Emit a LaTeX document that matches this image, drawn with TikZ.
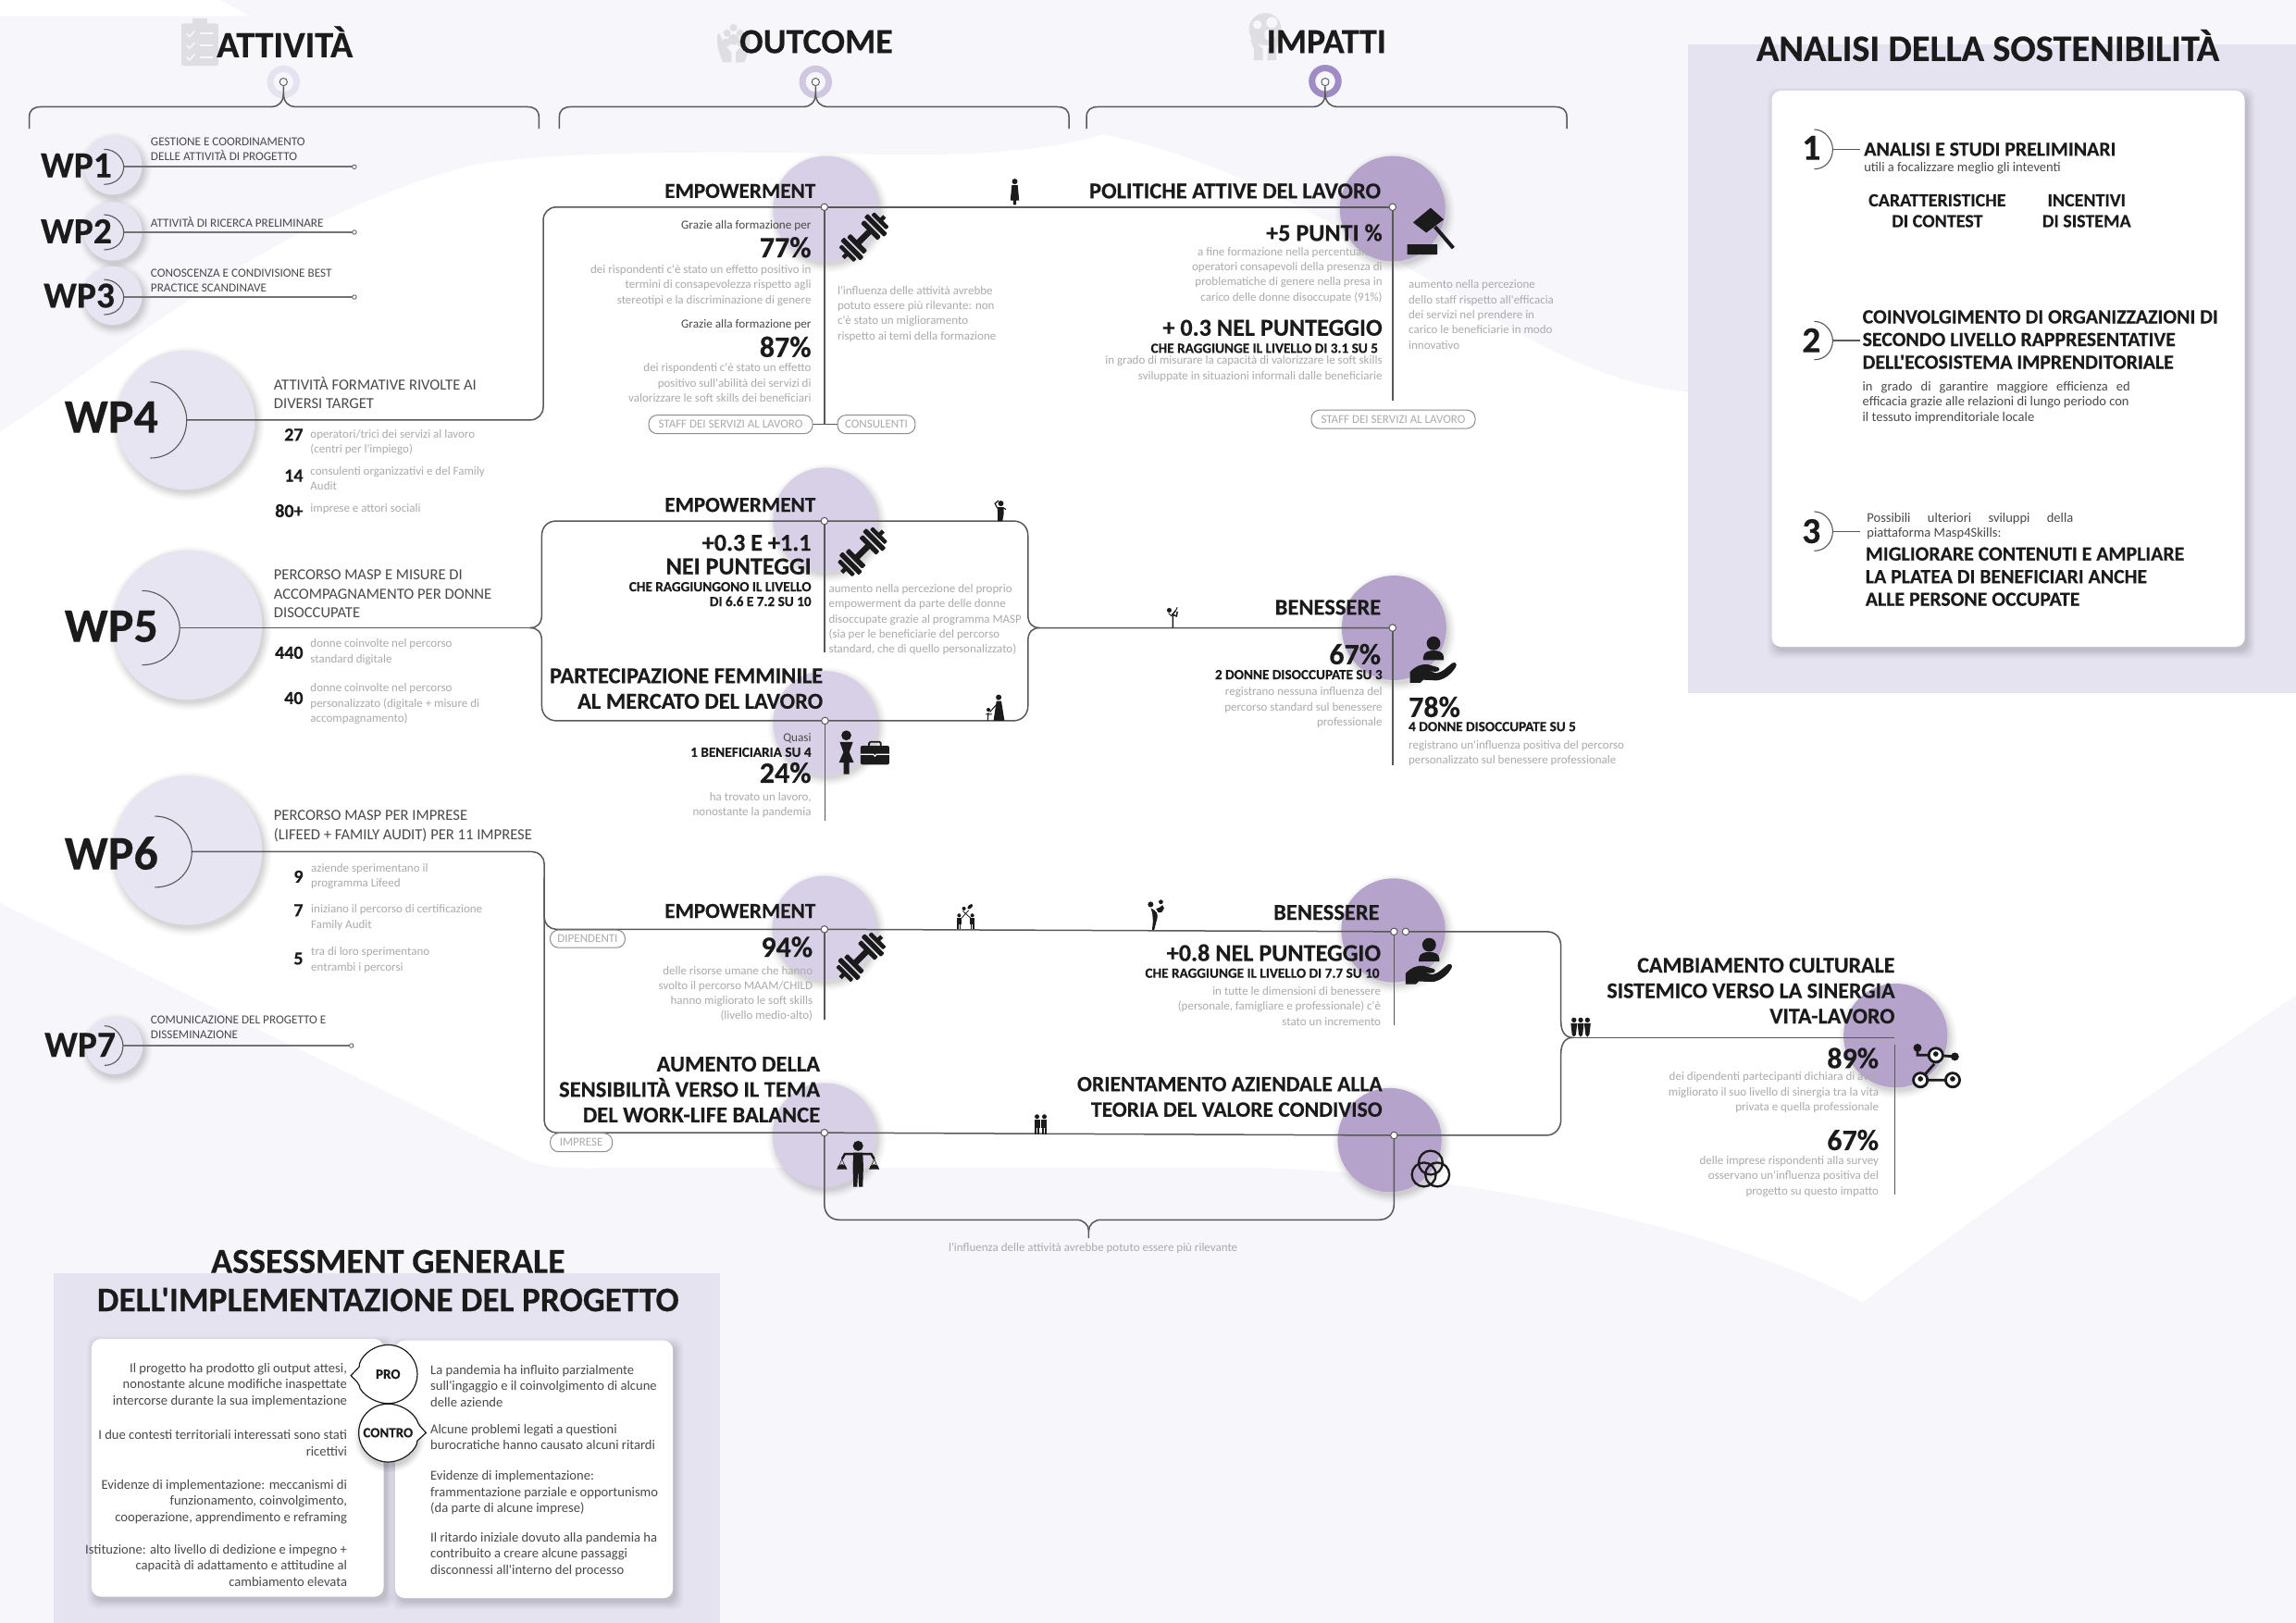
\documentclass[tikz,border=0pt]{standalone}
\usepackage{fontspec}
\setmainfont{Carlito}[Ligatures=TeXOff,BoldFeatures={FakeBold=0.35}]
\usetikzlibrary{calc}
\definecolor{bgl}{HTML}{F6F6FB}
\definecolor{panel}{HTML}{E6E3F1}
\definecolor{wpc}{HTML}{E8E5F2}
\definecolor{lp}{HTML}{D8D0E6}
\definecolor{dp}{HTML}{B5A3CB}
\definecolor{rng}{HTML}{A08CC4}
\definecolor{rnm}{HTML}{D0C8E2}
\definecolor{ink}{HTML}{1B1B1B}
\definecolor{lin}{HTML}{585858}
\definecolor{gtx}{HTML}{ABABAB}
\definecolor{dtx}{HTML}{4A4A4A}
\definecolor{hic}{HTML}{DEDEE3}
\newcommand\softdisc[4]{%
  \foreach \d/\o in {5/.02,4/.02,3/.025,2/.03,1/.03,0/.04}{\fill[black,opacity=\o] (#1+1.5,#2+2.5) circle[radius=#3+\d];}
  \fill[#4] (#1,#2) circle[radius=#3];}
\newcommand\softcard[4]{%
  \foreach \d/\o in {5/.02,4/.02,3/.025,2/.03,1/.03,0/.04}{\fill[black,opacity=\o,rounded corners=10pt] (#1+2-\d,#2+3-\d) rectangle (#3+2+\d,#4+3+\d);}
  \fill[white,rounded corners=10pt] (#1,#2) rectangle (#3,#4);}
\newcommand\wparc[4]{\draw[arcl] (#1,#2) .. controls (#1+0.6*#3-0.6*#1,#2) and (#3,#4-0.45*#4+0.45*#2) .. (#3,#4) .. controls (#3,#4+0.55*#4-0.55*#2) and (#1+0.6*#3-0.6*#1,2*#4-#2) .. (#1,2*#4-#2);}
\newcommand\topbracket[3]{%
  \draw[conn] (#1,88) -- (#1,80) .. controls (#1,75) and (#1+3,73) .. (#1+8,73) -- (#2-8,73) .. controls (#2-4,73) and (#2,70) .. (#2,64) -- (#2,59);
  \draw[conn] (#3,88) -- (#3,80) .. controls (#3,75) and (#3-3,73) .. (#3-8,73) -- (#2+8,73) .. controls (#2+4,73) and (#2,70) .. (#2,64);
  \draw[lin,line width=.9pt,fill=bgl] (#2,56) circle[radius=2.6];}
\tikzset{
 conn/.style={draw=lin,line width=1.5pt},
 arcl/.style={draw=lin,line width=1.1pt},
 wpl/.style={draw=black!55,line width=1.7pt},
 dotn/.style={circle,draw=lin,fill=white,line width=1pt,minimum size=7.5pt,inner sep=0},
 endn/.style={circle,draw=lin,fill=white,line width=.8pt,minimum size=4.5pt,inner sep=0},
 pill/.style={draw=black!45,fill=white,line width=1pt,rounded corners=9pt,inner sep=0,font=\fontsize{13}{14}\selectfont,text=gtx},
 rt/.style={anchor=east,align=right,inner sep=0,outer sep=0},
 lt/.style={anchor=west,align=left,inner sep=0,outer sep=0},
 ct/.style={anchor=center,align=center,inner sep=0,outer sep=0},
 title/.style={font=\bfseries\fontsize{38}{41}\selectfont,text=ink},
 wp/.style={font=\bfseries\fontsize{39.5}{44}\selectfont,text=ink},
 wpb/.style={font=\bfseries\fontsize{52}{56}\selectfont,text=ink},
 hd/.style={font=\bfseries\fontsize{24.5}{27.5}\selectfont,text=ink},
 emp/.style={font=\bfseries\fontsize{23.2}{27.5}\selectfont,text=ink},
 pct/.style={font=\bfseries\fontsize{32}{34}\selectfont,text=ink},
 big/.style={font=\bfseries\fontsize{26.2}{25.6}\selectfont,text=ink},
 sb/.style={font=\bfseries\fontsize{15.2}{16}\selectfont,text=ink},
 gr/.style={font=\fontsize{13}{16.3}\selectfont,text=gtx},
 sm/.style={font=\fontsize{13.2}{16}\selectfont,text=dtx},
 md/.style={font=\fontsize{16.6}{20.5}\selectfont,text=dtx},
 num/.style={font=\bfseries\fontsize{20}{22}\selectfont,text=ink},
 as/.style={font=\fontsize{14.6}{17.5}\selectfont,text=dtx},
 an/.style={font=\bfseries\fontsize{21.8}{24.5}\selectfont,text=ink},
 ans/.style={font=\fontsize{14.5}{16.5}\selectfont,text=dtx},
 dumbbell/.pic={\begin{scope}[rotate=45]
   \fill[ink,rounded corners=.6pt] (-8,-2.2) rectangle (8,2.2);
   \foreach \s in {-1,1}{
    \fill[ink,rounded corners=1pt] ({\s*7-1.8},-8.5) rectangle ({\s*7+1.8},8.5);
    \fill[ink,rounded corners=1pt] ({\s*12-1.8},-10) rectangle ({\s*12+1.8},10);
    \fill[ink,rounded corners=1pt] ({\s*16.5-1.5},-7.5) rectangle ({\s*16.5+1.5},7.5);
    \fill[ink] ({\s*17},-1.5) rectangle ({\s*21},1.5);}
   \end{scope}},
 gavel/.pic={\fill[ink] (-12,-7) -- (0,-17) -- (9,-9) -- (-3,0) -- cycle;
   \draw[ink,line width=4pt] (3,-4) -- (15.5,10.5);
   \fill[ink,rounded corners=.5pt] (-16,8) rectangle (4.6,15);},
 carehand/.pic={\fill[ink] (0,-11.4) circle[radius=4.7];
   \fill[ink] (-7,0) -- (-7,-2) .. controls (-7,-5.5) and (-3,-6.5) .. (0,-6.5) .. controls (3,-6.5) and (7,-5.5) .. (7,-2) -- (7,0) -- cycle;
   \fill[ink] (-16,15.5) -- (-16,8) .. controls (-12,4) and (-8,2.5) .. (-4,3) -- (3,5) .. controls (5,6) and (4,8) .. (1,8) -- (-3,7.5) -- (2,9) .. controls (6,8.5) and (10,4) .. (13,2) .. controls (15,1) and (16.5,3) .. (15,5) .. controls (12,10) and (7,13.5) .. (2,14) -- (-7,13.5) -- (-9,15.5) -- cycle;},
 woman/.pic={\fill[ink] (0,-11.5) circle[radius=3.4];
   \fill[ink] (-4.5,-7) -- (4.5,-7) -- (2,0) -- (5,7) -- (1.9,7) -- (1.9,15) -- (-1.9,15) -- (-1.9,7) -- (-5,7) -- (-2,0) -- cycle;},
 briefcase/.pic={\fill[ink,rounded corners=2pt] (-9.8,-5) rectangle (9.8,8);
   \draw[ink,line width=1.8pt,rounded corners=1.5pt] (-4,-5) -- (-4,-7.6) -- (4,-7.6) -- (4,-5);
   \draw[white,line width=1.2pt] (-9.8,1) -- (-1,1) -- (0,2.2) -- (1,1) -- (9.8,1);},
 balance/.pic={\fill[ink] (0,-12) circle[radius=3.5];
   \fill[ink] (-3.2,-7.5) -- (3.2,-7.5) -- (3.6,2) -- (3.2,16) -- (.6,16) -- (0,4) -- (-.6,16) -- (-3.2,16) -- (-3.6,2) -- cycle;
   \draw[ink,line width=2.4pt] (-11,-3) -- (-9,-6.5) -- (9,-6.5) -- (11,-3);
   \draw[ink,line width=.6pt] (-11,-3) -- (-14,4) (-11,-3) -- (-8,4) (11,-3) -- (14,4) (11,-3) -- (8,4);
   \fill[ink] (-14.5,4) arc[start angle=180,end angle=360,radius=3.5] -- cycle;
   \fill[ink] (7.5,4) arc[start angle=180,end angle=360,radius=3.5] -- cycle;},
 venn/.pic={\draw[ink,line width=2.3pt] (0,-4.5) circle[radius=8.2] (-4.6,3.6) circle[radius=8.2] (4.6,3.6) circle[radius=8.2];},
 netw/.pic={\draw[ink,line width=2.8pt] (-12.5,-11) |- (0,-7) (0,-7) -- (13,-6) (-10.5,10) -- (11.5,10) (-1,-1) -- (-9,8);
   \fill[ink] (-12.5,-12) circle[radius=2.8] (13,-6) circle[radius=2.8];
   \foreach \p in {(0,-7),(-10.5,10),(11.5,10)}{\fill[white] \p circle[radius=4.8]; \draw[ink,line width=2.8pt] \p circle[radius=4.8]; \fill[ink] \p ++(0,-.8) circle[radius=1.8];}},
 figa/.pic={\fill[ink] (0,-16) circle[radius=1.9];
   \fill[ink] (-2,-13.5) -- (2,-13.5) -- (3,-3) -- (1,-3) -- (1,0) -- (-1,0) -- (-1,-3) -- (-3,-3) -- cycle;},
 figb/.pic={\fill[ink] (.5,-12) circle[radius=1.9];
   \fill[ink] (-2,-9.5) -- (2.5,-9.5) -- (2.5,-5) -- (1.6,0) -- (-1.6,0) -- (-1.6,-5) -- cycle;
   \draw[ink,line width=1.2pt] (2,-9) -- (4,-8) (-2,-9) -- (-3.5,-12) -- (-1,-14);},
 figc/.pic={\fill[ink] (1,-16) circle[radius=1.9];
   \fill[ink] (-.5,-13.5) -- (2.8,-13.5) -- (5,0) -- (-2.5,0) -- cycle;
   \fill[ink] (-6,-7.5) circle[radius=1.3];
   \draw[ink,line width=1.1pt] (-.5,-11) -- (-5,-6) (-3.6,-4.5) -- (-7.8,-4.5) (-6,-5.5) -- (-6.5,0);},
 figd/.pic={\draw[ink,line width=1.5pt] (0,0) -- (0,-7) -- (-.3,-9) -- (2,-12);
   \draw[ink,line width=1.5pt] (-1,-9.2) -- (2.5,-8) -- (3,-11);
   \fill[ink] (-2.5,-12) circle[radius=1.6];
   \draw[ink,line width=1pt] (-3,-10) -- (-1,-8) (2,-12) -- (3,-14);},
 fige/.pic={\foreach \x in {-5.5,3.5}{\fill[ink] (\x,-9.5) circle[radius=1.3]; \fill[ink] (\x-1.4,-8) rectangle (\x+1.4,-3.5); \fill[ink] (\x-1.3,-3.5) rectangle (\x-.2,0); \fill[ink] (\x+.2,-3.5) rectangle (\x+1.3,0);}
   \draw[ink,line width=.8pt] (-4,-7.5) -- (1,-13) (2.5,-7.5) -- (-3,-12.5);
   \fill[ink,rotate around={40:(2,-15.5)}] (2,-15.5) ellipse[x radius=2.2,y radius=1.2];
   \fill[ink] (-2.2,-14.2) circle[radius=1.3];},
 figf/.pic={\fill[ink] (-3.2,-17.5) circle[radius=1.9];
   \fill[ink] (-3,-15) .. controls (1,-13) and (2,-11) .. (1.3,-8) -- (-.8,0) -- (-2.2,0) -- (-1.6,-6) -- (-2,-11) -- cycle;
   \fill[ink] (.5,-14.5) -- (3,-15.5) -- (5,-17) -- (6,-15) -- (5,-13) -- (4,-12) -- (2,-12) -- cycle;
   \fill[ink] (3.8,-19.2) circle[radius=1.5];},
 figg/.pic={\foreach \x in {-3.8,1.2}{\fill[ink] (\x,-12) circle[radius=1.6]; \fill[ink] (\x-1.9,-10) rectangle (\x+1.9,-4); \fill[ink] (\x-1.6,-4) rectangle (\x-.2,0); \fill[ink] (\x+.2,-4) rectangle (\x+1.6,0);}},
 figh/.pic={\foreach \x in {-4.6,0,4.6}{\fill[ink] (\x,-12) circle[radius=1.7]; \fill[ink] (\x-2.2,-9.8) -- (\x+2.2,-9.8) -- (\x+1.3,-2) -- (\x,-.5) -- (\x-1.3,-2) -- cycle;}},
 clipb/.pic={\fill[hic,rounded corners=1.5pt] (-12.5,-13) rectangle (12.5,16);
   \fill[hic,rounded corners=1pt] (-5,-16.5) rectangle (5,-10);
   \foreach \y in {-6,2,10}{\draw[bgl,line width=1.6pt] (-9,\y) -- (-7,\y+2) -- (-3.5,\y-2); \draw[bgl,line width=1.8pt] (0,\y) -- (9,\y);}},
 handsp/.pic={\fill[hic] (-14,8) .. controls (-16,-2) and (-15,-8) .. (-13.5,-8) .. controls (-12,-6) and (-11,-1) .. (-8,3) -- (-2,10) -- (-2,19) -- (-10,19) -- cycle;
   \fill[hic] (14,8) .. controls (16,-2) and (15,-8) .. (13.5,-8) .. controls (12,-6) and (11,-1) .. (8,3) -- (2,10) -- (2,19) -- (10,19) -- cycle;
   \fill[hic] (0,-13) circle[radius=3.4] (-6,-8) circle[radius=3.4] (6,-8) circle[radius=3.4] (0,-2) circle[radius=5] (-7,1) circle[radius=4] (7,1) circle[radius=4];},
 globeh/.pic={\fill[hic] (0,-8) circle[radius=14.5];
   \fill[bgl] (-7,-12) circle[radius=4] (6,-14) circle[radius=5] (4,-3) circle[radius=5];
   \fill[hic] (-10,20) -- (-10,10) -- (-13,2) -- (-12,-2) -- (-8,4) -- (-2,10) -- (-2,20) -- cycle;
   \fill[hic] (10,20) -- (10,10) -- (13,2) -- (12,-2) -- (8,4) -- (2,10) -- (2,20) -- cycle;
   \fill[hic] (-3,-2) circle[radius=3] (-3,3) circle[radius=3.2];},
}
\begin{document}
\begin{tikzpicture}[x=1.5823pt,y=-1.5816pt,line cap=butt]
\useasboundingbox (0,0) rectangle (1568,1109);
% background
\fill[bgl] (0,0) rectangle (1568,1109);
\fill[white] (0,0) -- (150,0) -- (171,11) -- (0,11) -- cycle;
\fill[white] (0,295) .. controls (80,245) and (180,150) .. (322,113)
  .. controls (370,104) and (470,103) .. (576,105)
  .. controls (650,107) and (710,105) .. (753,92)
  .. controls (860,112) and (960,185) .. (1049,234)
  .. controls (1090,255) and (1120,265) .. (1153,268) -- (1568,180)
  -- (1568,680) .. controls (1450,760) and (1350,830) .. (1272,890)
  .. controls (1180,840) and (1000,800) .. (853,798) -- (441,798)
  .. controls (400,798) and (380,800) .. (360,793) -- (0,617) -- cycle;
% panels
\fill[panel] (1153,30.5) rectangle (1568,473.5);
\fill[panel] (36.7,870) rectangle (492,1109);
\softcard{1210}{62}{1533}{442}
\softcard{62.5}{915}{262}{1091}
\softcard{270}{916}{459.5}{1092}
% header icons
\pic at (136.5,29) {clipb};
\pic[scale=.74] at (501,28.5) {handsp};
\pic[scale=.76] at (864,26) {globeh};
% halos + brackets
\draw[panel,line width=7pt] (193.6,56) circle[radius=9];
\draw[rnm,line width=7pt] (557,56) circle[radius=9];
\draw[rng,line width=7pt] (905,55.5) circle[radius=9];
\topbracket{20}{193.6}{368}
\topbracket{382}{557}{730}
\topbracket{742}{905}{1070}
% WP discs
\softdisc{77}{113}{20}{wpc}
\softdisc{77}{158}{20}{wpc}
\softdisc{77}{202}{20}{wpc}
\softdisc{126.5}{287}{47.5}{wpc}
\softdisc{128}{427}{51}{wpc}
\softdisc{128}{581}{51}{wpc}
\softdisc{78}{714.5}{19.5}{wpc}
% outcome discs
\softdisc{564}{142.6}{36}{lp}
\softdisc{951}{142.6}{36}{dp}
\softdisc{563.5}{355}{35.5}{lp}
\softdisc{563.5}{494}{35.5}{lp}
\softdisc{952}{429}{35.7}{dp}
\softdisc{563}{634}{35.5}{lp}
\softdisc{563}{775.5}{35.5}{lp}
\softdisc{951.5}{635.7}{35.5}{dp}
\softdisc{949}{779}{35.5}{dp}
\softdisc{1294.5}{707.6}{35.5}{dp}
% coordinates
\coordinate (c1) at (563,141.5); \coordinate (c2) at (951,141.5);
\coordinate (c3) at (563,356); \coordinate (c4) at (563.4,492.5);
\coordinate (c5) at (951,429);
\coordinate (c6) at (563,635); \coordinate (c7) at (952,636.6); \coordinate (c8) at (960,636.6);
\coordinate (c9) at (563,774); \coordinate (c10) at (952,775.8);
\coordinate (e1) at (242,114); \coordinate (e2) at (242,158.7); \coordinate (e3) at (242,203); \coordinate (e7) at (240,714.5);
% WP connectors
\wparc{71}{102}{84.5}{114}
\wparc{71}{146.7}{84.5}{158.7}
\wparc{71}{191}{84.5}{203}
\wparc{102.6}{261}{127.5}{287}
\wparc{97}{403.6}{122.7}{429}
\wparc{105.7}{557.7}{131}{582}
\wparc{71.4}{701}{84}{714.5}
\draw[wpl] (84.5,114) -- (e1);
\draw[wpl] (84.5,158.7) -- (e2);
\draw[wpl] (84.5,203) -- (e3);
\draw[wpl] (84,714.5) -- (e7);
\draw[conn,rounded corners=14pt] (127.5,287) -- (371,287) -- (371,141.5) -- (c1);
\draw[conn] (c1) -- (c2);
\draw[conn] (c1) -- (563,290);
\draw[conn] (c2) -- (951,273.7);
\draw[conn] (555,290) -- (572,290);
% WP5 connector
\draw[conn] (122.7,429) -- (362,429);
\draw[conn] (362,429) .. controls (367,429) and (370,426) .. (370,420) -- (370,366) .. controls (370,360) and (374,356) .. (380,356) -- (c3) -- (692,356) .. controls (698,356) and (702,360) .. (702,366) -- (702,420) .. controls (702,426) and (705,429) .. (710,429) -- (c5);
\draw[conn] (362,429) .. controls (367,429) and (370,432) .. (370,438) -- (370,482.5) .. controls (370,488) and (374,492.5) .. (380,492.5) -- (c4) -- (692,492.5) .. controls (698,492.5) and (702,488) .. (702,482.5) -- (702,438) .. controls (702,432) and (705,429) .. (710,429);
\draw[conn] (c3) -- (563,445.7);
\draw[conn] (c4) -- (563.4,561);
\draw[conn] (c5) -- (951,523);
% WP6 connector
\draw[conn,rounded corners=13pt] (131,582) -- (371.7,582) -- (371.7,635) -- (c6);
\draw[conn,rounded corners=13pt] (371.7,600) -- (371.7,774) -- (c9);
\draw[conn] (c6) -- (c7);
\draw[conn] (c8) -- (1056,636.6) .. controls (1062,636.6) and (1066,640) .. (1066,647) -- (1066,698) .. controls (1066,705) and (1069,709) .. (1074,709);
\draw[conn] (c9) -- (c10);
\draw[conn] (c10) -- (1056,775.8) .. controls (1062,775.8) and (1066,771) .. (1066,765) -- (1066,720) .. controls (1066,713) and (1069,709) .. (1074,709);
\coordinate (c11) at (1294,709);
\draw[conn] (1074,709) -- (c11);
\draw[conn] (1294,714) -- (1294,816);
\draw[conn] (c6) -- (563,697);
\draw[conn] (c7) -- (952,700.7);
\draw[conn] (c9) -- (563,823) .. controls (563,829) and (567,833.5) .. (573,833.5) -- (735,833.5) .. controls (740,833.5) and (743.5,837) .. (743.5,841) -- (743.5,846);
\draw[conn] (c10) -- (952,823) .. controls (952,829) and (948,833.5) .. (942,833.5) -- (752,833.5) .. controls (747,833.5) and (743.5,837) .. (743.5,841);
% dots
\node[dotn] (d1) at (c1) {}; \node[dotn] (d2) at (c2) {}; \node[dotn] (d3) at (c3) {}; \node[dotn] (d4) at (c4) {};
\node[dotn] (d5) at (c5) {}; \node[dotn] (d6) at (c6) {}; \node[dotn] (d7) at (c7) {}; \node[dotn] (d8) at (c8) {};
\node[dotn] (d9) at (c9) {}; \node[dotn] (d10) at (c10) {};
\node[endn] (f1) at (e1) {}; \node[endn] (f2) at (e2) {}; \node[endn] (f3) at (e3) {}; \node[endn] (f7) at (e7) {};
% pills
\node[pill,minimum width=177pt,minimum height=20pt] (p1) at (499,290) {STAFF DEI SERVIZI AL LAVORO};
\node[pill,minimum width=84pt,minimum height=20pt] (p2) at (598.5,290) {CONSULENTI};
\node[pill,minimum width=177pt,minimum height=20pt] (p3) at (951.5,286.5) {STAFF DEI SERVIZI AL LAVORO};
\node[pill,minimum width=81pt,minimum height=19pt] (p4) at (401.3,641.5) {DIPENDENTI};
\node[pill,minimum width=67pt,minimum height=20pt] (p5) at (397,780.7) {IMPRESE};
% icons
\pic[scale=.95] at (590,162) {dumbbell};
\pic[scale=.95] at (589,377) {dumbbell};
\pic[scale=.95] at (588,654) {dumbbell};
\pic at (977,159) {gavel};
\pic at (979,451) {carehand};
\pic at (976,657) {carehand};
\pic at (578,514) {woman};
\pic at (597.5,514.5) {briefcase};
\pic at (586,795) {balance};
\pic at (977,799) {venn};
\pic at (1322,728) {netw};
\pic at (693,140) {figa};
\pic at (683,356) {figb};
\pic at (681,492.5) {figc};
\pic at (801,429) {figd};
\pic at (660.5,635) {fige};
\pic at (789,635.5) {figf};
\pic at (712,775) {figg};
\pic at (1079.5,709) {figh};
% titles
\node[lt,title,font=\bfseries\fontsize{40}{41}\selectfont] (t1) at (148,28.5) {ATTIVITÀ};
\node[lt,title] (t2) at (505,28.5) {OUTCOME};
\node[lt,title] (t3) at (865,28.5) {IMPATTI};
\node[ct,title,font=\bfseries\fontsize{40.4}{41}\selectfont] (t4) at (1357.5,31) {ANALISI DELLA SOSTENIBILITÀ};
\node[ct,title] (t5) at (265,862) {ASSESSMENT GENERALE};
\node[ct,title,font=\bfseries\fontsize{37.4}{41}\selectfont] (t6) at (265,888) {DELL'IMPLEMENTAZIONE DEL PROGETTO};
% WP labels
\node[rt,wp] (w1) at (76.4,113) {WP1};
\node[rt,wp] (w2) at (76.4,158) {WP2};
\node[rt,wp] (w3) at (78.4,202) {WP3};
\node[rt,wpb] (w4) at (108,285) {WP4};
\node[rt,wpb] (w5) at (108,428) {WP5};
\node[rt,wpb] (w6) at (108,583) {WP6};
\node[rt,wp] (w7) at (79,714) {WP7};
% WP texts
\node[lt,sm] (a1) at (103,102) {GESTIONE E COORDINAMENTO\\DELLE ATTIVITÀ DI PROGETTO};
\node[lt,sm] (a2) at (103,152) {ATTIVITÀ DI RICERCA PRELIMINARE};
\node[lt,sm] (a3) at (103,191.5) {CONOSCENZA E CONDIVISIONE BEST\\PRACTICE SCANDINAVE};
\node[lt,md] (a4) at (187,268.5) {ATTIVITÀ FORMATIVE RIVOLTE AI\\DIVERSI TARGET};
\node[rt,num] (a5) at (207,297) {27};
\node[lt,gr] (a6) at (212,302.5) {operatori/trici dei servizi al lavoro\\(centri per l'impiego)};
\node[rt,num] (a7) at (207,325) {14};
\node[lt,gr] (a8) at (212,327) {consulenti organizzativi e del Family\\Audit};
\node[rt,num] (a9) at (207,349) {80+};
\node[lt,gr] (a10) at (212,348) {imprese e attori sociali};
\node[lt,md] (a11) at (187,406) {PERCORSO MASP E MISURE DI\\ACCOMPAGNAMENTO PER DONNE\\DISOCCUPATE};
\node[rt,num] (a12) at (207,446) {440};
\node[lt,gr] (a13) at (212,445.5) {donne coinvolte nel percorso\\standard digitale};
\node[rt,num] (a14) at (207,477) {40};
\node[lt,gr] (a15) at (212,481) {donne coinvolte nel percorso\\personalizzato (digitale + misure di\\accompagnamento)};
\node[lt,md] (a16) at (187,564.5) {PERCORSO MASP PER IMPRESE\\(LIFEED + FAMILY AUDIT) PER 11 IMPRESE};
\node[rt,num] (a17) at (207,599) {9};
\node[lt,gr] (a18) at (212.5,599) {aziende sperimentano il\\programma Lifeed};
\node[rt,num] (a19) at (207,622) {7};
\node[lt,gr] (a20) at (212.5,627) {iniziano il percorso di certificazione\\Family Audit};
\node[rt,num] (a21) at (207,655) {5};
\node[lt,gr] (a22) at (212.5,656) {tra di loro sperimentano\\entrambi i percorsi};
\node[lt,sm] (a23) at (103,702) {COMUNICAZIONE DEL PROGETTO E\\DISSEMINAZIONE};
% block 1
\node[rt,emp] (b1) at (557,130.5) {EMPOWERMENT};
\node[rt,sm] (b2) at (554,154.5) {Grazie alla formazione per};
\node[rt,pct] (b3) at (554,169) {77\%};
\node[rt,gr] (b4) at (554,195) {dei rispondenti c'è stato un effetto positivo in\\termini di consapevolezza rispetto agli\\stereotipi e la discriminazione di genere};
\node[rt,sm] (b5) at (554,222) {Grazie alla formazione per};
\node[rt,pct] (b6) at (554,237) {87\%};
\node[rt,gr] (b7) at (554,261.5) {dei rispondenti c'è stato un effetto\\positivo sull'abilità dei servizi di\\valorizzare le soft skills dei beneficiari};
\node[lt,gr] (b8) at (572,214.5) {l'influenza delle attività avrebbe\\potuto essere più rilevante: non\\c'è stato un miglioramento\\rispetto ai temi della formazione};
\node[rt,hd] (b9) at (943,130.5) {POLITICHE ATTIVE DEL LAVORO};
\node[rt,big] (b10) at (944,159) {+5 PUNTI \%};
\node[rt,gr] (b11) at (944,188) {a fine formazione nella percentuale di\\operatori consapevoli della presenza di\\problematiche di genere nella presa in\\carico delle donne disoccupate (91\%)};
\node[rt,big] (b12) at (944,224) {+ 0.3 NEL PUNTEGGIO};
\node[rt,sb] (b13) at (941,238) {CHE RAGGIUNGE IL LIVELLO DI 3.1 SU 5};
\node[rt,gr] (b14) at (944,252) {in grado di misurare la capacità di valorizzare le soft skills\\sviluppate in situazioni informali dalle beneficiarie};
\node[lt,gr] (b15) at (962,215) {aumento nella percezione\\dello staff rispetto all'efficacia\\dei servizi nel prendere in\\carico le beneficiarie in modo\\innovativo};
% block 2
\node[rt,emp] (c21) at (557,345) {EMPOWERMENT};
\node[rt,big] (c22) at (554,379) {+0.3 E +1.1\\NEI PUNTEGGI};
\node[rt,sb] (c23) at (554,406) {CHE RAGGIUNGONO IL LIVELLO\\DI 6.6 E 7.2 SU 10};
\node[lt,gr] (c24) at (566,423.5) {aumento nella percezione del proprio\\empowerment da parte delle donne\\disoccupate grazie al programma MASP\\(sia per le beneficiarie del percorso\\standard, che di quello personalizzato)};
\node[rt,hd] (c25) at (562,470.5) {PARTECIPAZIONE FEMMINILE\\AL MERCATO DEL LAVORO};
\node[rt,sm] (c26) at (554,504.5) {Quasi};
\node[rt,sb] (c27) at (554,514) {1 BENEFICIARIA SU 4};
\node[rt,pct] (c28) at (554,528) {24\%};
\node[rt,gr] (c29) at (554,550) {ha trovato un lavoro,\\nonostante la pandemia};
\node[rt,hd] (c30) at (943,415) {BENESSERE};
\node[rt,pct] (c31) at (943,447) {67\%};
\node[rt,sb] (c32) at (944,461) {2 DONNE DISOCCUPATE SU 3};
\node[rt,gr] (c33) at (944,483.5) {registrano nessuna influenza del\\percorso standard sul benessere\\professionale};
\node[lt,pct] (c34) at (962,483) {78\%};
\node[lt,sb] (c35) at (962,496.5) {4 DONNE DISOCCUPATE SU 5};
\node[lt,gr] (c36) at (962,514.5) {registrano un'influenza positiva del percorso\\personalizzato sul benessere professionale};
% block 3
\node[rt,emp] (g1) at (557,622.5) {EMPOWERMENT};
\node[rt,pct] (g2) at (555,647) {94\%};
\node[rt,gr] (g3) at (555,679) {delle risorse umane che hanno\\svolto il percorso MAAM/CHILD\\hanno migliorato le soft skills\\(livello medio-alto)};
\node[rt,hd] (g4) at (942,623.5) {BENESSERE};
\node[rt,big] (g5) at (943,651) {+0.8 NEL PUNTEGGIO};
\node[rt,sb] (g6) at (942,665) {CHE RAGGIUNGE IL LIVELLO DI 7.7 SU 10};
\node[rt,gr] (g7) at (943,687.5) {in tutte le dimensioni di benessere\\(personale, famigliare e professionale) c'è\\stato un incremento};
\node[rt,hd] (g8) at (560,744.5) {AUMENTO DELLA\\SENSIBILITÀ VERSO IL TEMA\\DEL WORK-LIFE BALANCE};
\node[rt,hd,font=\bfseries\fontsize{23.6}{27.5}\selectfont] (g9) at (944,749.5) {ORIENTAMENTO AZIENDALE ALLA\\TEORIA DEL VALORE CONDIVISO};
\node[rt,hd,font=\bfseries\fontsize{24}{27.5}\selectfont] (g10) at (1294,677) {CAMBIAMENTO CULTURALE\\SISTEMICO VERSO LA SINERGIA\\VITA-LAVORO};
\node[rt,pct] (g11) at (1283,723) {89\%};
\node[rt,gr] (g12) at (1283,746.5) {dei dipendenti partecipanti dichiara di aver\\migliorato il suo livello di sinergia tra la vita\\privata e quella professionale};
\node[rt,pct] (g13) at (1283,779) {67\%};
\node[rt,gr] (g14) at (1283,804) {delle imprese rispondenti alla survey\\osservano un'influenza positiva del\\progetto su questo impatto};
\node[ct,gr] (g15) at (746.5,853) {l'influenza delle attività avrebbe potuto essere più rilevante};
% analysis
\wparc{1239}{88.5}{1251.6}{102}
\wparc{1239}{219.6}{1251.6}{232.7}
\wparc{1239}{349.6}{1251.6}{363}
\coordinate (h1) at (1270,102); \coordinate (h2) at (1270,232.7); \coordinate (h3) at (1270,363);
\draw[arcl] (1251.6,102) -- (h1);
\draw[arcl] (1251.6,232.7) -- (h2);
\draw[arcl] (1251.6,363) -- (h3);
\node[ct,wp] (k1) at (1237,101) {1};
\node[ct,wp] (k2) at (1237,232.5) {2};
\node[ct,wp] (k3) at (1237,363) {3};
\node[lt,an] (k4) at (1273,102) {ANALISI E STUDI PRELIMINARI};
\node[lt,ans] (k5) at (1273,115) {utili a focalizzare meglio gli inteventi};
\node[ct,an,font=\bfseries\fontsize{20}{22.5}\selectfont] (k6) at (1323,144) {CARATTERISTICHE\\DI CONTEST};
\node[ct,an,font=\bfseries\fontsize{20}{22.5}\selectfont] (k7) at (1425,144) {INCENTIVI\\DI SISTEMA};
\node[lt,an] (k8) at (1272,232) {COINVOLGIMENTO DI ORGANIZZAZIONI DI\\SECONDO LIVELLO RAPPRESENTATIVE\\DELL'ECOSISTEMA IMPRENDITORIALE};
\node[lt,ans] (k9) at (1272,275) {\makebox[289pt][s]{in grado di garantire maggiore efficienza ed}\\efficacia grazie alle relazioni di lungo periodo con\\il tessuto imprenditoriale locale};
\node[lt,ans] (k10) at (1275,359.5) {\makebox[223pt][s]{Possibili ulteriori sviluppi della}\\piattaforma Masp4Skills:};
\node[lt,an] (k11) at (1274,394) {MIGLIORARE CONTENUTI E AMPLIARE\\LA PLATEA DI BENEFICIARI ANCHE\\ALLE PERSONE OCCUPATE};
% assessment
\node[rt,as] (s1) at (237,946.5) {Il progetto ha prodotto gli output attesi,\\nonostante alcune modifiche inaspettate\\intercorse durante la sua implementazione};
\node[rt,as] (s2) at (237,986) {I due contesti territoriali interessati sono stati\\ricettivi};
\node[rt,as] (s3) at (237,1026) {Evidenze di implementazione: meccanismi di\\funzionamento, coinvolgimento,\\cooperazione, apprendimento e reframing};
\node[rt,as] (s4) at (237,1069.5) {Istituzione: alto livello di dedizione e impegno +\\capacità di adattamento e attitudine al\\cambiamento elevata};
\node[lt,as] (s5) at (294,947) {La pandemia ha influito parzialmente\\sull'ingaggio e il coinvolgimento di alcune\\delle aziende};
\node[lt,as] (s6) at (294,982) {Alcune problemi legati a questioni\\burocratiche hanno causato alcuni ritardi};
\node[lt,as] (s7) at (294,1020) {Evidenze di implementazione:\\frammentazione parziale e opportunismo\\(da parte di alcune imprese)};
\node[lt,as] (s8) at (294,1062) {Il ritardo iniziale dovuto alla pandemia ha\\contribuito a creare alcune passaggi\\disconnessi all'interno del processo};
% bubbles
\foreach \d/\o in {4/.03,3/.03,2/.04,1/.04,0/.05}{\fill[black,opacity=\o] (266,982) circle[radius=20+\d];}
\draw[fill=white,draw=ink,line width=1.2pt] (239.6,940) .. controls (244,944) and (245.5,946) .. (246,949) .. controls (250,955) and (258,959) .. (265,959) .. controls (276,959) and (285,950) .. (285,939) .. controls (285,928) and (276,919) .. (265,919) .. controls (254,919) and (245,928) .. (245.3,934) -- cycle;
\draw[fill=white,draw=ink,line width=1.2pt] (291,979) .. controls (287,975) and (285.5,973) .. (284.5,970) .. controls (281,964) and (273,959.3) .. (265,959.3) .. controls (254,959.3) and (245,968) .. (245,979) .. controls (245,990) and (254,999) .. (265,999) .. controls (276,999) and (285,990) .. (285,984.5) -- cycle;
\node[ct,sb,font=\bfseries\fontsize{15}{16}\selectfont] (q1) at (265,939) {PRO};
\node[ct,sb,font=\bfseries\fontsize{15}{16}\selectfont] (q2) at (265,979) {CONTRO};
\end{tikzpicture}
\end{document}
